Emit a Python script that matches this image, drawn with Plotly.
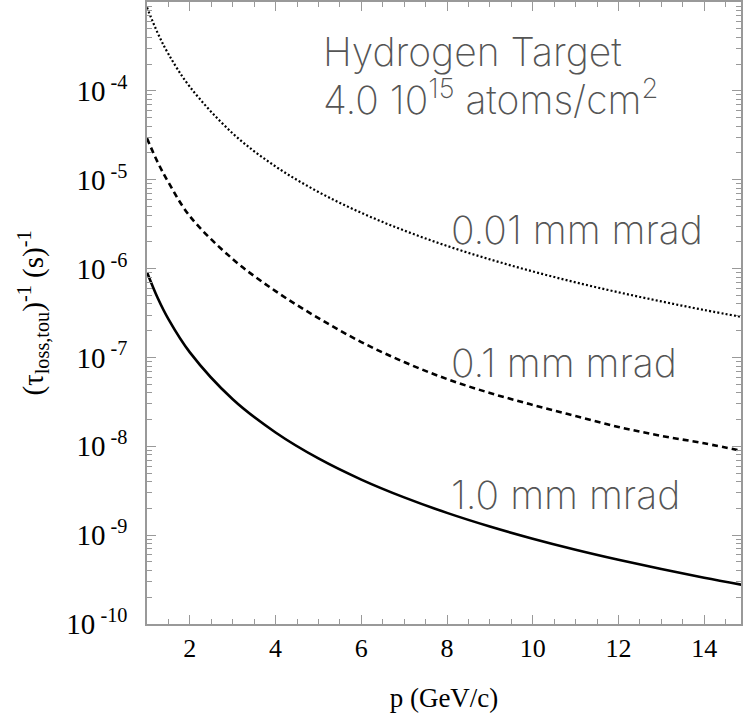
import plotly.graph_objects as go

# momentum p (GeV/c)
p = [1, 1.25, 1.5, 2, 3, 4, 5, 6, 7, 8, 9, 10, 11, 12, 13, 14, 15]

# inverse Touschek loss lifetime (1/s) for three emittances
rate_001 = [8.67e-4, 4.47e-4, 2.60e-4, 1.11e-4, 3.32e-5, 1.41e-5, 7.28e-6, 4.24e-6,
            2.68e-6, 1.80e-6, 1.27e-6, 9.29e-7, 7.00e-7, 5.41e-7, 4.27e-7, 3.42e-7, 2.79e-7]
rate_01 = [2.92e-5, 1.57e-5, 9.35e-6, 3.88e-6, 1.28e-6, 5.57e-7, 2.77e-7, 1.49e-7,
           8.87e-8, 5.71e-8, 3.98e-8, 2.92e-8, 2.19e-8, 1.65e-8, 1.31e-8, 1.08e-8, 8.63e-9]
rate_1 = [9.12e-7, 4.67e-7, 2.70e-7, 1.14e-7, 3.38e-8, 1.43e-8, 7.30e-9, 4.22e-9,
          2.66e-9, 1.78e-9, 1.25e-9, 9.12e-10, 6.85e-10, 5.28e-10, 4.15e-10, 3.32e-10, 2.70e-10]

curve_labels = ["0.01 mm mrad", "0.1 mm mrad", "1.0 mm mrad"]
target_lines = ["Hydrogen Target", "4.0 10<sup>15</sup> atoms/cm<sup>2</sup>"]

ytick_exp = [-4, -5, -6, -7, -8, -9, -10]
xtick_vals = [2, 4, 6, 8, 10, 12, 14]

axis_col = "#999999"
serif = "Liberation Serif, Times New Roman, serif"
thin = "Inter, DejaVu Sans, sans-serif"
txt_col = "#555555"

fig = go.Figure()
fig.add_trace(go.Scatter(x=p, y=rate_001, mode="lines", line_shape="spline",
                         line=dict(color="black", width=2.2, dash="2px,2.2px")))
fig.add_trace(go.Scatter(x=p, y=rate_01, mode="lines", line_shape="spline",
                         line=dict(color="black", width=2.6, dash="6px,4px")))
fig.add_trace(go.Scatter(x=p, y=rate_1, mode="lines", line_shape="spline",
                         line=dict(color="black", width=2.6)))

minor_y = [k * 10.0 ** n for n in range(-10, -2) for k in range(2, 10)]

fig.update_layout(
    width=743, height=721,
    margin=dict(l=147, r=0, t=2, b=97),
    plot_bgcolor="white", paper_bgcolor="white",
    showlegend=False,
    xaxis=dict(
        range=[1, 14.86], showgrid=False, zeroline=False,
        showline=True, linecolor=axis_col, linewidth=1.5, mirror="ticks",
        ticks="inside", ticklen=9, tickwidth=1.2, tickcolor=axis_col,
        tickmode="array", tickvals=xtick_vals,
        tickfont=dict(family=serif, size=26, color="black"),
        minor=dict(dtick=0.5, ticks="inside", ticklen=5, tickwidth=1.2, tickcolor=axis_col, showgrid=False),
        title=dict(text="p (GeV/c)", font=dict(family=serif, size=27, color="black"), standoff=26),
    ),
    yaxis=dict(
        type="log", range=[-10, -3], showgrid=False, zeroline=False,
        showline=True, linecolor=axis_col, linewidth=1.5, mirror="ticks",
        ticks="inside", ticklen=9, tickwidth=1.2, tickcolor=axis_col,
        tickmode="array", tickvals=[10.0 ** e for e in ytick_exp],
        ticktext=["10<sup> %d</sup>" % e for e in ytick_exp],
        tickfont=dict(family=serif, size=29, color="black"),
        ticklabelstandoff=12,
        minor=dict(tickmode="array", tickvals=minor_y, ticks="inside", ticklen=5,
                   tickwidth=1.2, tickcolor=axis_col, showgrid=False),
        title=dict(text="(τ<sub>loss,tou</sub>)<sup>-1</sup> (s)<sup>-1</sup>",
                   font=dict(family=serif, size=29, color="black"), standoff=14),
    ),
)

# annotations on a log axis use log10 units for y
fig.add_annotation(xref="x", yref="y", x=5.07, y=-3.556, xanchor="left", yanchor="middle",
                   text=target_lines[0], showarrow=False,
                   font=dict(family=thin, size=39, color=txt_col, weight=200))
fig.add_annotation(xref="x", yref="y", x=5.07, y=-4.07, xanchor="left", yanchor="middle",
                   text=target_lines[1], showarrow=False,
                   font=dict(family=thin, size=39, color=txt_col, weight=200))
for txt, ylog in zip(curve_labels, [-5.557, -7.052, -8.547]):
    fig.add_annotation(xref="x", yref="y", x=8.05, y=ylog, xanchor="left", yanchor="middle",
                       text=txt, showarrow=False,
                       font=dict(family=thin, size=39, color=txt_col, weight=200))

fig.write_html("out.html")
